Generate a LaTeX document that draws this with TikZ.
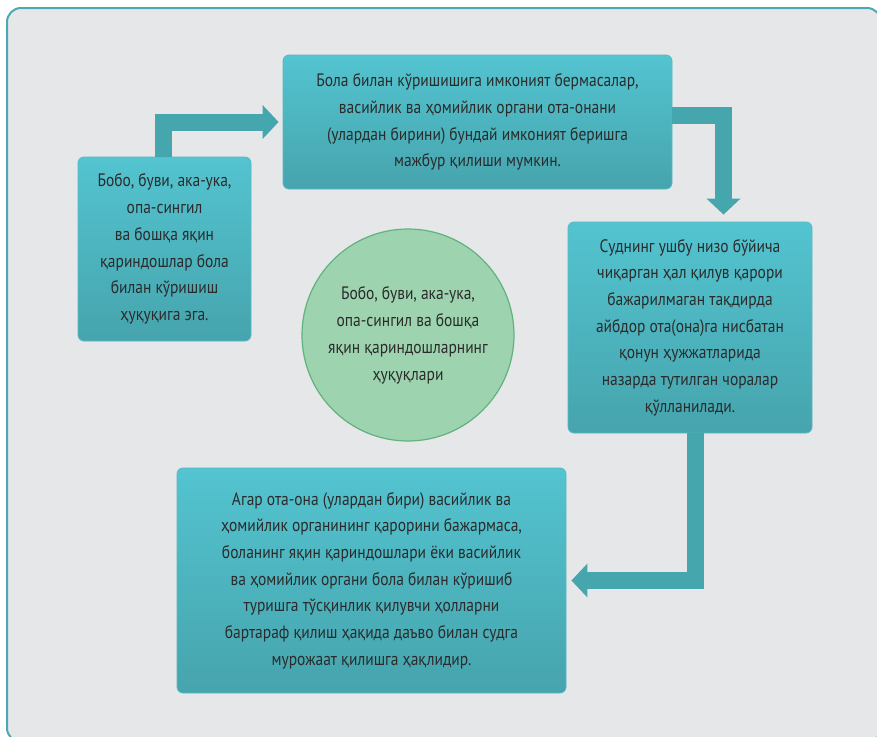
\documentclass[tikz,border=0pt]{standalone}
\usepackage{fontspec}
\setmainfont{PT Sans}[FakeStretch=0.86]
\usetikzlibrary{arrows.meta}
\definecolor{panel}{HTML}{E6E7E9}
\definecolor{panelline}{HTML}{4AA9B2}
\definecolor{boxtop}{HTML}{53C4D0}
\definecolor{boxbottom}{HTML}{46A4AD}
\definecolor{boxline}{HTML}{58B9C2}
\definecolor{flowteal}{HTML}{46A6AE}
\definecolor{rightsfill}{HTML}{9DD3AE}
\definecolor{rightsline}{HTML}{62B27F}
\definecolor{ink}{HTML}{2B2B2B}

\begin{document}
\begin{tikzpicture}[x=1pt, y=-1pt,
    box/.style={rectangle, rounded corners=6pt, draw=boxline, line width=0.8pt,
        top color=boxtop, bottom color=boxbottom, text=ink, align=center,
        inner sep=0pt, font=\fontsize{18}{26.7}\selectfont},
    rights/.style={circle, fill=rightsfill, draw=rightsline, line width=1.2pt,
        text=ink, align=center, inner sep=0pt, minimum size=212pt,
        font=\fontsize{18}{27}\selectfont},
    flow/.style={draw=flowteal, line width=17pt,
        -{Triangle[width=33pt, length=16pt]}}]
    \useasboundingbox (0,0) rectangle (877,736);
    \clip (0,0) rectangle (877,736);

    % Panel
    \draw[fill=panel, draw=panelline, line width=2pt, rounded corners=14pt]
        (7,8) rectangle (881,742);

    % Grandparents' right
    \node[box, minimum width=173pt, minimum height=184pt] (kin) at (164.5,249)
        {Бобо, буви, ака-ука,\\опа-сингил\\ва бошқа яқин\\қариндошлар бола\\билан кўришиш\\ҳуқуқига эга.};

    % Guardianship body
    \node[box, minimum width=389pt, minimum height=134pt] (guard) at (477.5,122)
        {Бола билан кўришишига имконият бермасалар,\\васийлик ва ҳомийлик органи ота-онани\\(улардан бирини) бундай имконият беришга\\мажбур қилиши мумкин.};

    % Court decision
    \node[box, minimum width=244pt, minimum height=211pt] (court) at (690,327.5)
        {Суднинг ушбу низо бўйича\\чиқарган ҳал қилув қарори\\бажарилмаган тақдирда\\айбдор ота(она)га нисбатан\\қонун ҳужжатларида\\назарда тутилган чоралар\\қўлланилади.};

    % Claim to court
    \node[box, minimum width=389pt, minimum height=225pt] (claim) at (371.5,580.5)
        {Агар ота-она (улардан бири) васийлик ва\\ҳомийлик органининг қарорини бажармаса,\\боланинг яқин қариндошлари ёки васийлик\\ва ҳомийлик органи бола билан кўришиб\\туришга тўсқинлик қилувчи ҳолларни\\бартараф қилиш ҳақида даъво билан судга\\мурожаат қилишга ҳақлидир.};

    % Centre
    \node[rights] (centre) at (408,335)
        {Бобо, буви, ака-ука,\\опа-сингил ва бошқа\\яқин қариндошларнинг\\ҳуқуқлари};

    % Arrows
    \draw[flow, shorten >=4pt] ([xshift=-1pt]kin.north) |- (guard.west);
    \draw[flow, shorten >=7pt] ([yshift=6.5pt]guard.east) -| ([xshift=33.5pt]court.north);
    \draw[flow, shorten >=5pt] ([xshift=5pt]court.south) |- (claim.east);
\end{tikzpicture}
\end{document}
